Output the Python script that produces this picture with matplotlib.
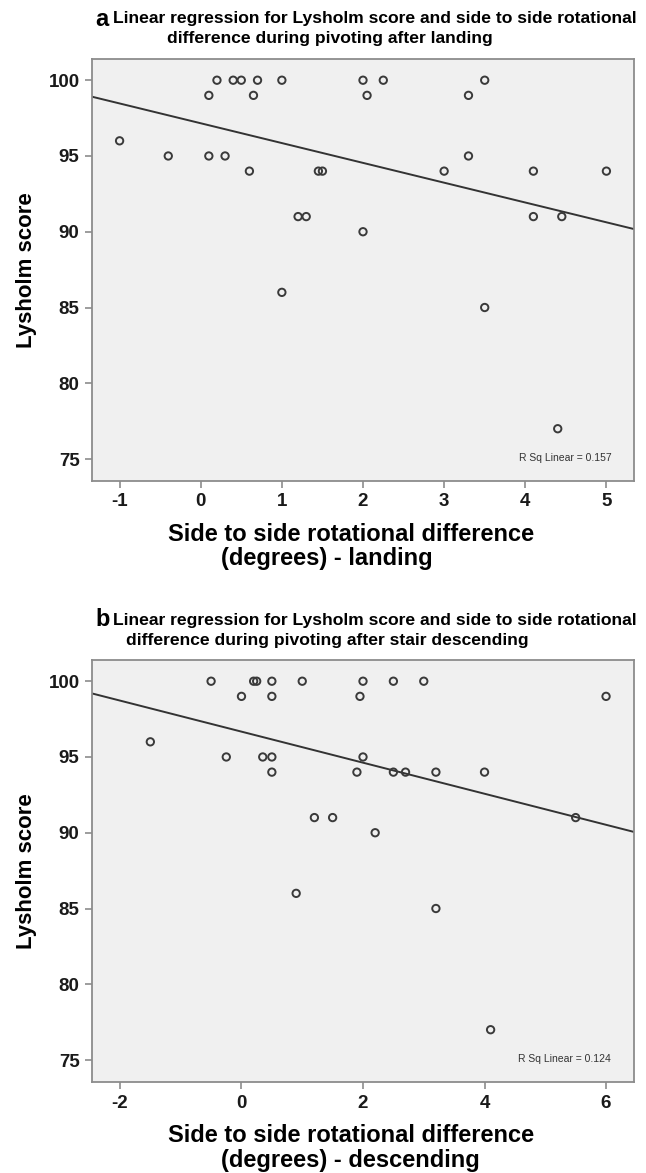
import matplotlib
matplotlib.use("Agg")
import matplotlib.pyplot as plt
import numpy as np

W, H = 646, 1173

# panel a: pivoting after landing
land_x = [-1.0, -0.4, 0.1, 0.3, 0.6, 1.45, 1.5, 1.2, 1.3, 2.0, 1.0,
          0.1, 0.65, 0.2, 0.4, 0.5, 0.7, 1.0, 2.0, 2.25, 3.5,
          2.05, 3.3, 3.3, 3.0, 4.1, 5.0, 4.1, 4.45, 3.5, 4.4]
land_y = [96, 95, 95, 95, 94, 94, 94, 91, 91, 90, 86,
          99, 99, 100, 100, 100, 100, 100, 100, 100, 100,
          99, 99, 95, 94, 94, 94, 91, 91, 85, 77]

# panel b: pivoting after stair descending
desc_x = [-0.5, 0.2, 0.25, 0.5, 1.0, 2.0, 2.5, 3.0,
          0.0, 0.5, 1.95, 6.0,
          -1.5,
          -0.25, 0.35, 0.5, 2.0,
          0.5, 1.9, 2.5, 2.7, 3.2, 4.0,
          1.2, 1.5, 5.5,
          2.2, 0.9, 3.2, 4.1]
desc_y = [100, 100, 100, 100, 100, 100, 100, 100,
          99, 99, 99, 99,
          96,
          95, 95, 95, 95,
          94, 94, 94, 94, 94, 94,
          91, 91, 91,
          90, 86, 85, 77]

land_xticks = [-1, 0, 1, 2, 3, 4, 5]
desc_xticks = [-2, 0, 2, 4, 6]
y_ticks = [75, 80, 85, 90, 95, 100]

land_title = ["Linear regression for Lysholm score and side to side rotational",
              "difference during pivoting after landing"]
desc_title = ["Linear regression for Lysholm score and side to side rotational",
              "difference during pivoting after stair descending"]
land_xlabel = ["Side to side rotational difference", "(degrees) - landing"]
desc_xlabel = ["Side to side rotational difference", "(degrees) - descending"]
land_rsq = "R Sq Linear = 0.157"
desc_rsq = "R Sq Linear = 0.124"

plt.rcParams["font.family"] = ["Liberation Sans", "DejaVu Sans"]
plt.rcParams["axes.unicode_minus"] = False

fig = plt.figure(figsize=(W / 100, H / 100), dpi=100)


def fx(px):
    return px / W


def fy(py):
    return 1 - py / H


def panel(top, letter, title, xs, ys, xticks, xlim, xlabel, rsq, indent):
    left, right, height = 92, 634, 422
    ax = fig.add_axes([fx(left), fy(top + height), fx(right - left), height / H])
    ax.set_facecolor("#f0f0f0")
    for s in ax.spines.values():
        s.set_color("#8c8c8c")
        s.set_linewidth(1.3)
    ax.scatter(xs, ys, s=28, facecolors="none", edgecolors="#3a3a3a",
               linewidths=1.4, zorder=3)
    k, b = np.polyfit(xs, ys, 1)
    lx = np.array(xlim)
    ax.plot(lx, k * lx + b, color="#333333", lw=1.4, zorder=2)
    ax.set_xlim(xlim)
    ax.set_ylim(73.55, 101.4)
    ax.set_xticks(xticks)
    ax.set_yticks(y_ticks)
    ax.tick_params(direction="out", length=5, width=1.2, color="#8c8c8c",
                   labelsize=13.5, pad=4, labelcolor="#1a1a1a")
    for t in ax.get_xticklabels() + ax.get_yticklabels():
        t.set_fontweight("bold")
    ax.set_ylabel("Lysholm score", fontsize=16, fontweight="bold", labelpad=8)
    ax.text(0.958, 0.055, rsq, transform=ax.transAxes, ha="right", va="center",
            fontsize=7.5, color="#333333")

    fig.text(fx(95), fy(top - 40), letter, fontsize=17, fontweight="bold",
             va="center", ha="left")
    fig.text(fx(113), fy(top - 40), title[0], fontsize=12.6, fontweight="bold",
             va="center", ha="left")
    fig.text(fx(indent), fy(top - 20), title[1], fontsize=12.6, fontweight="bold",
             va="center", ha="left")

    bottom = top + height
    fig.text(fx(168), fy(bottom + 53), xlabel[0], fontsize=17, fontweight="bold",
             va="center", ha="left")
    fig.text(fx(221), fy(bottom + 78), xlabel[1], fontsize=17, fontweight="bold",
             va="center", ha="left")
    return ax


panel(59, "a", land_title, land_x, land_y, land_xticks, (-1.34, 5.34),
      land_xlabel, land_rsq, 167)
panel(660, "b", desc_title, desc_x, desc_y, desc_xticks, (-2.46, 6.46),
      desc_xlabel, desc_rsq, 126)

fig.savefig("out.png", dpi=100, facecolor="white")
